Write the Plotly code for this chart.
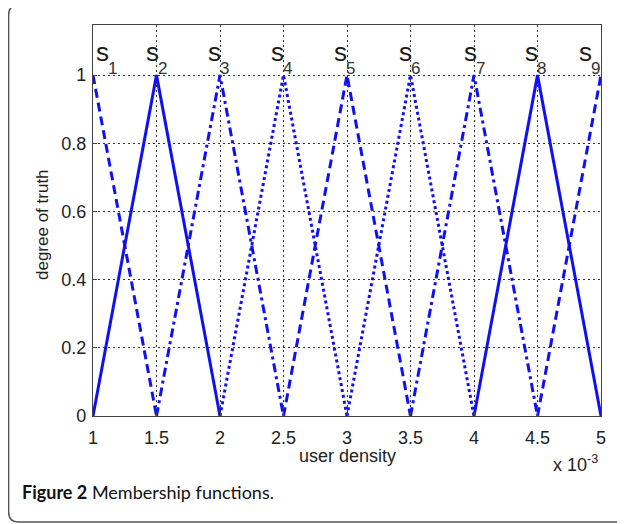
import plotly.graph_objects as go

# ---- data (user density in units of 1e-3) ----
x_s1 = [1.0, 1.5]; y_s1 = [1, 0]
x_s2 = [1.0, 1.5, 2.0]; y_s2 = [0, 1, 0]
x_s3 = [1.5, 2.0, 2.5]; y_s3 = [0, 1, 0]
x_s4 = [2.0, 2.5, 3.0]; y_s4 = [0, 1, 0]
x_s5 = [2.5, 3.0, 3.5]; y_s5 = [0, 1, 0]
x_s6 = [3.0, 3.5, 4.0]; y_s6 = [0, 1, 0]
x_s7 = [3.5, 4.0, 4.5]; y_s7 = [0, 1, 0]
x_s8 = [4.0, 4.5, 5.0]; y_s8 = [0, 1, 0]
x_s9 = [4.5, 5.0]; y_s9 = [0, 1]
labels = ["1", "2", "3", "4", "5", "6", "7", "8", "9"]
label_x = [1.016, 1.41, 1.90, 2.39, 2.89, 3.40, 3.91, 4.39, 4.82]
x_ticks = [1, 1.5, 2, 2.5, 3, 3.5, 4, 4.5, 5]
x_ticktext = ["1", "1.5", "2", "2.5", "3", "3.5", "4", "4.5", "5"]
y_ticks = [0, 0.2, 0.4, 0.6, 0.8, 1]
y_ticktext = ["0", "0.2", "0.4", "0.6", "0.8", "1"]

series = [
    (x_s1, y_s1, "9px,5px"),
    (x_s2, y_s2, "solid"),
    (x_s3, y_s3, "9px,4px,3px,4px"),
    (x_s4, y_s4, "3px,3px"),
    (x_s5, y_s5, "9px,5px"),
    (x_s6, y_s6, "3px,3px"),
    (x_s7, y_s7, "9px,4px,3px,4px"),
    (x_s8, y_s8, "solid"),
    (x_s9, y_s9, "9px,5px"),
]

BLUE = "#1010f0"
AXFONT = "Liberation Sans, Arial, Helvetica, sans-serif"
TXT = "#222"

fig = go.Figure()
for xs, ys, dash in series:
    fig.add_trace(go.Scatter(x=xs, y=ys, mode="lines",
                             line=dict(color=BLUE, width=3, dash=dash),
                             showlegend=False, hoverinfo="skip"))

# page body has an 8px margin; the figure is shifted accordingly
OFF = 8
W, H = 625 - OFF, 524 - OFF
L, R, T, B = 93 - OFF, 24, 25 - OFF, 108
pw, ph = W - L - R, H - T - B

def px(xp):  # reference pixel -> paper x
    return (xp - OFF - L) / pw

def py(yp):  # reference pixel -> paper y
    return (H - B - (yp - OFF)) / ph

annotations = []
for lab, lx in zip(labels, label_x):
    annotations.append(dict(
        x=lx, y=1.02, xref="x", yref="y", xanchor="left", yanchor="bottom",
        text="s", showarrow=False, borderpad=0,
        font=dict(family=AXFONT, size=26, color="#1a1a1a")))
    annotations.append(dict(
        x=lx + 0.095, y=0.99, xref="x", yref="y", xanchor="left", yanchor="bottom",
        text=lab, showarrow=False, borderpad=0,
        font=dict(family=AXFONT, size=17, color="#333")))

annotations += [
    dict(x=0.5, xref="paper", y=py(444), yref="paper", yanchor="top", xanchor="center",
         text="user density", showarrow=False,
         font=dict(family=AXFONT, size=18, color=TXT)),
    dict(x=px(43), xref="paper", y=py(225), yref="paper", xanchor="center", yanchor="middle",
         text="degree of truth", textangle=-90, showarrow=False,
         font=dict(family=AXFONT, size=17, color=TXT)),
    dict(x=px(551), xref="paper", y=py(477), yref="paper", xanchor="left", yanchor="bottom",
         text="x 10<sup>-3</sup>", showarrow=False,
         font=dict(family=AXFONT, size=18, color=TXT)),
    dict(x=px(20), xref="paper", y=py(505), yref="paper", xanchor="left", yanchor="bottom",
         text="<b>Figure 2</b> Membership functions.", showarrow=False,
         font=dict(family="Lato, Noto Sans, sans-serif", size=18, color="#111")),
]

# rounded outer frame
x0, x1, y0, y1, r = 8.6, 640, 5, 522, 10
path = (f"M {px(x0)},{py(y0 + r)} Q {px(x0)},{py(y0)} {px(x0 + r)},{py(y0)} "
        f"L {px(x1)},{py(y0)} L {px(x1)},{py(y1)} L {px(x0 + r)},{py(y1)} "
        f"Q {px(x0)},{py(y1)} {px(x0)},{py(y1 - r)} Z")

axis_common = dict(
    showgrid=True, gridcolor="#333", griddash="2px,3px", gridwidth=1,
    showline=True, linecolor="#444", linewidth=1.2, mirror=True,
    ticks="inside", ticklen=4, tickcolor="#444",
    tickfont=dict(family=AXFONT, size=18, color=TXT),
    zeroline=False,
)

fig.update_layout(
    width=W, height=H,
    margin=dict(l=L, r=R, t=T, b=B),
    paper_bgcolor="white", plot_bgcolor="white",
    annotations=annotations,
    shapes=[dict(type="path", path=path, xref="paper", yref="paper",
                 line=dict(color="#555", width=1.5), layer="below")],
    xaxis=dict(range=[1, 5], tickvals=x_ticks, ticktext=x_ticktext,
               ticklabelstandoff=5, **axis_common),
    yaxis=dict(range=[0, 1.147], tickvals=y_ticks, ticktext=y_ticktext,
               ticklabelstandoff=2, **axis_common),
)

fig.write_html("out.html")
